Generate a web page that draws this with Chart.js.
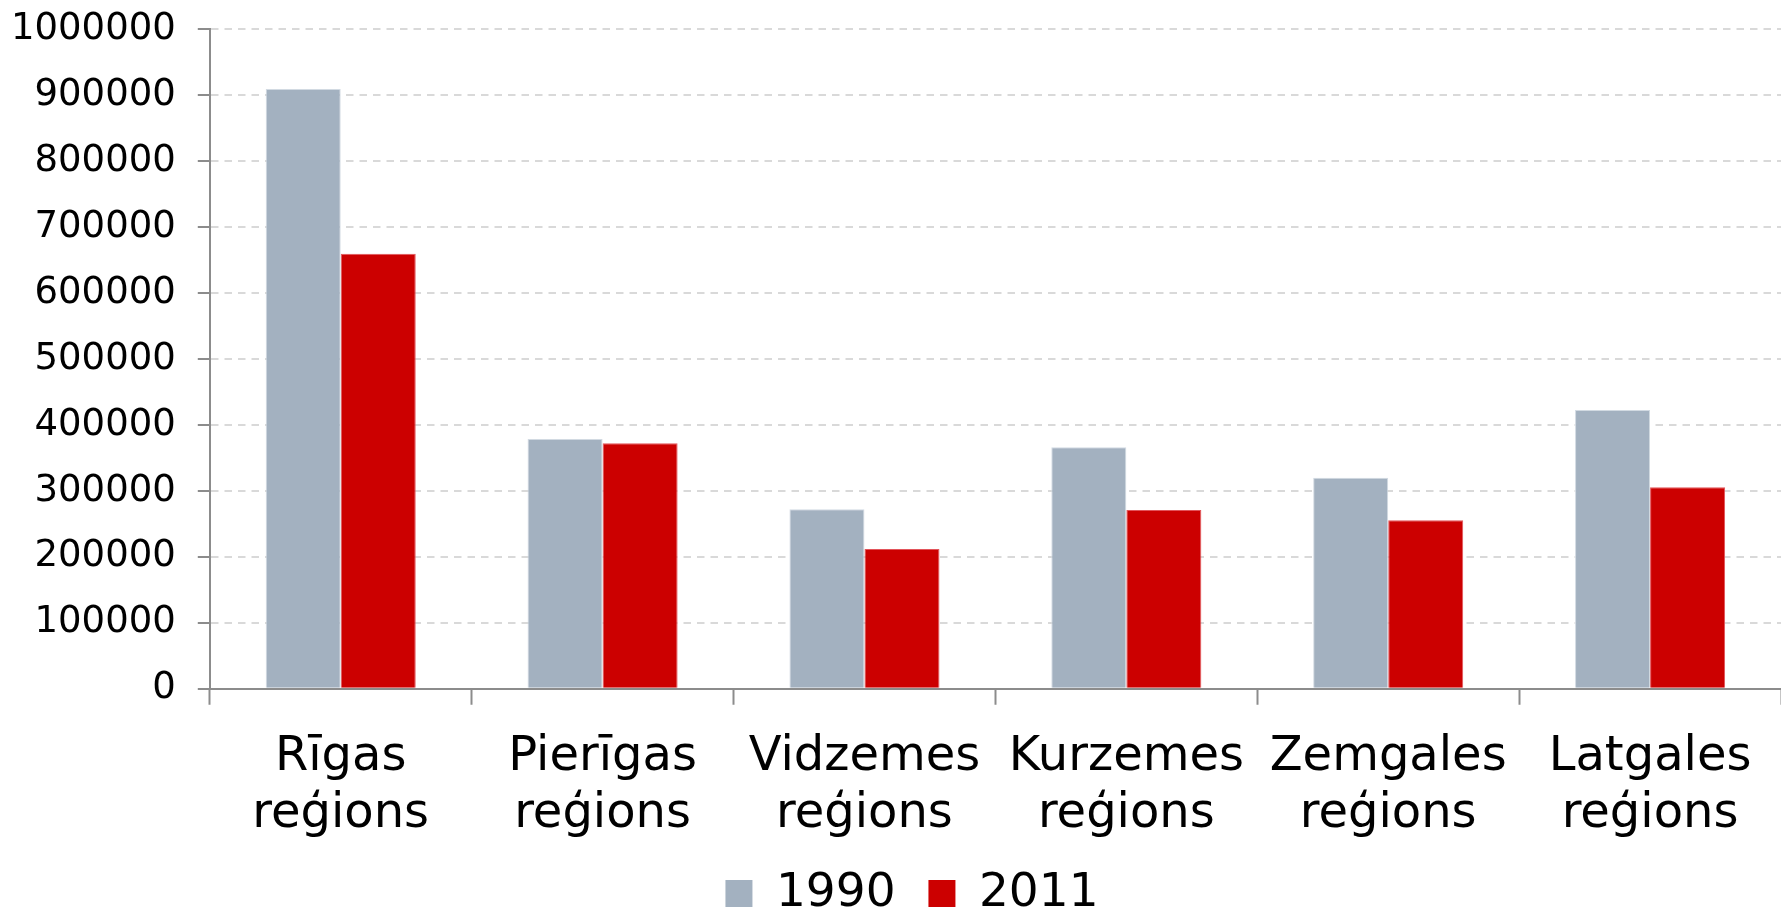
<!DOCTYPE html>
<html>
<head>
<meta charset="utf-8">
<script src="https://cdn.jsdelivr.net/npm/chart.js@4"></script>
<style>
  html, body { margin: 0; padding: 0; background: #fff; }
  #wrap { width: 1781px; height: 913px; }
</style>
</head>
<body>
<div id="wrap"><canvas id="chart"></canvas></div>
<script>
// regions, two lines each
const regions = [
  ["Rīgas", "reģions"],
  ["Pierīgas", "reģions"],
  ["Vidzemes", "reģions"],
  ["Kurzemes", "reģions"],
  ["Zemgales", "reģions"],
  ["Latgales", "reģions"]
];
const years = ["1990", "2011"];
const pop1990 = [909500, 378800, 272200, 366200, 320200, 422700];
const pop2011 = [659600, 372300, 212100, 271200, 255600, 305600];
const yMin = 0, yMax = 1000000, yStep = 100000;

const axisGray = "#8c8c8c";

// legend in the original sits a bit right of centre
const nudgeLegend = {
  id: "nudgeLegend",
  afterLayout(chart) {
    if (!chart.legend) return;
    chart.legend.left += 27;
    chart.legend.right += 27;
  }
};

const ctx = document.getElementById("chart").getContext("2d");
new Chart(ctx, {
  type: "bar",
  data: {
    labels: regions,
    datasets: [
      {
        label: years[0],
        data: pop1990,
        backgroundColor: "#a3b1c0",
        borderColor: "#d2dae2",
        borderWidth: 1
      },
      {
        label: years[1],
        data: pop2011,
        backgroundColor: "#cc0000",
        borderColor: "#e2545a",
        borderWidth: 1
      }
    ]
  },
  plugins: [nudgeLegend],
  options: {
    responsive: true,
    maintainAspectRatio: false,
    animation: false,
    layout: { padding: { left: -11, top: 0, right: 0, bottom: -14 } },
    datasets: { bar: { categoryPercentage: 0.573, barPercentage: 1.0 } },
    scales: {
      x: {
        grid: {
          display: true,
          drawOnChartArea: false,
          drawTicks: true,
          tickLength: 16,
          tickColor: axisGray,
          tickWidth: 2
        },
        border: { display: true, color: axisGray, width: 2 },
        ticks: {
          autoSkip: false,
          maxRotation: 0,
          minRotation: 0,
          padding: 24,
          color: "#000",
          font: { family: "DejaVu Sans", size: 48, lineHeight: 1.19 }
        }
      },
      y: {
        min: yMin,
        max: yMax,
        grid: {
          color: "#d9d9d9",
          lineWidth: 2,
          tickLength: 12,
          tickColor: axisGray,
          tickWidth: 2,
          tickBorderDash: []
        },
        border: { display: true, color: axisGray, width: 2, dash: [7.5, 6] },
        ticks: {
          stepSize: yStep,
          padding: 22,
          color: "#000",
          // small lineHeight keeps the top label from pushing the plot down
          font: { family: "DejaVu Sans", size: 37, lineHeight: 0.4 },
          callback: (v) => String(v)
        }
      }
    },
    plugins: {
      legend: {
        position: "bottom",
        labels: {
          boxWidth: 27,
          boxHeight: 27,
          padding: 3,
          color: "#000",
          font: { family: "DejaVu Sans", size: 47 },
          generateLabels: (chart) => {
            const items = Chart.defaults.plugins.legend.labels.generateLabels(chart);
            // a little extra room after every item except the last
            items.forEach((it, i) => {
              it.lineWidth = 0;
              if (i < items.length - 1) it.text = it.text + "  ";
            });
            return items;
          }
        }
      },
      tooltip: { enabled: false }
    }
  }
});
</script>
</body>
</html>
